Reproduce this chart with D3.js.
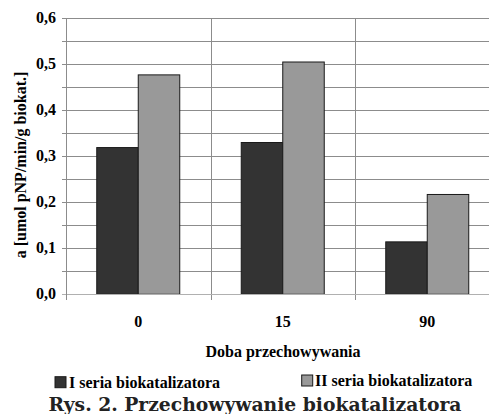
<!DOCTYPE html>
<html><head><meta charset="utf-8">
<script src="https://cdn.jsdelivr.net/npm/d3@7"></script>
<style>body{margin:0;background:#fff}svg{display:block}</style>
</head><body><svg width="489" height="414"></svg>
<script>
const categories = ["0", "15", "90"];
const seriesNames = ["I seria biokatalizatora", "II seria biokatalizatora"];
const seriesI = [0.319, 0.330, 0.114];
const seriesII = [0.477, 0.505, 0.217];
const yTicks = [0, 0.1, 0.2, 0.3, 0.4, 0.5, 0.6];
const yGrid = [0.05, 0.1, 0.15, 0.2, 0.25, 0.3, 0.35, 0.4, 0.45, 0.5, 0.55, 0.6];
const colors = ["#333333", "#999999"];

const svg = d3.select("svg");
const font = "'Liberation Serif', 'Times New Roman', serif";
const plotLeft = 66, plotTop = 18.3, plotBottom = 294.3, step = 144.5;

const x0 = d3.scaleBand().domain(categories).range([plotLeft, plotLeft + step * categories.length]).padding(0);
const x1 = d3.scaleBand().domain([0, 1]).range([0, x0.bandwidth()]).paddingInner(0).paddingOuter(0.741);
const y = d3.scaleLinear().domain([0, 0.6]).range([plotBottom, plotTop]);

const gridColor = "#8c8c8c";
// horizontal grid
svg.append("g").selectAll("line").data(yGrid).join("line")
  .attr("x1", plotLeft - 4).attr("x2", 489)
  .attr("y1", d => Math.round(y(d)) + 0.5).attr("y2", d => Math.round(y(d)) + 0.5)
  .attr("stroke", gridColor).attr("stroke-width", 1);
// vertical separators
svg.append("g").selectAll("line").data(categories.slice(1)).join("line")
  .attr("x1", d => Math.round(x0(d)) + 0.5).attr("x2", d => Math.round(x0(d)) + 0.5)
  .attr("y1", plotTop).attr("y2", 300)
  .attr("stroke", gridColor);

// bars
const data = categories.map((c, i) => ({c, v: [seriesI[i], seriesII[i]]}));
const g = svg.append("g").selectAll("g").data(data).join("g")
  .attr("transform", d => `translate(${x0(d.c)},0)`);
g.selectAll("rect").data(d => d.v.map((v, k) => ({v, k}))).join("rect")
  .attr("x", d => x1(d.k)).attr("width", x1.bandwidth())
  .attr("y", d => y(d.v)).attr("height", d => y(0) - y(d.v))
  .attr("fill", d => colors[d.k]).attr("stroke", "#1a1a1a").attr("stroke-width", 1);

// baseline and left axis
svg.append("line").attr("x1", plotLeft - 4).attr("x2", 489).attr("y1", Math.round(plotBottom) + 0.5).attr("y2", Math.round(plotBottom) + 0.5).attr("stroke", "#b0b0b0");
svg.append("line").attr("x1", plotLeft + 0.5).attr("x2", plotLeft + 0.5).attr("y1", plotTop).attr("y2", 300).attr("stroke", gridColor);

// y tick labels
svg.append("g").selectAll("text").data(yTicks).join("text")
  .attr("x", 56).attr("y", d => y(d) + 5)
  .attr("text-anchor", "end")
  .attr("font-family", font).attr("font-weight", "bold").attr("font-size", 16)
  .text(d => d3.format(".1f")(d).replace(".", ","));

// x labels
svg.append("g").selectAll("text").data(categories).join("text")
  .attr("x", d => x0(d) + x0.bandwidth() / 2).attr("y", 327)
  .attr("text-anchor", "middle")
  .attr("font-family", font).attr("font-weight", "bold").attr("font-size", 16)
  .text(d => d);

svg.append("text").attr("x", 283).attr("y", 357).attr("text-anchor", "middle")
  .attr("font-family", font).attr("font-weight", "bold").attr("font-size", 16)
  .text("Doba przechowywania");

svg.append("text").attr("transform", "translate(26,165) rotate(-90)").attr("text-anchor", "middle")
  .attr("font-family", font).attr("font-weight", "bold").attr("font-size", 16)
  .text("a [umol pNP/min/g biokat.]");

// legend
const legendPos = [{x: 55, y: 376.7, tx: 69, ty: 388}, {x: 301.7, y: 375, tx: 315, ty: 386}];
const lg = svg.append("g").selectAll("g").data(seriesNames).join("g");
lg.append("rect").attr("x", (d, i) => legendPos[i].x).attr("y", (d, i) => legendPos[i].y)
  .attr("width", 11).attr("height", 11).attr("fill", (d, i) => colors[i]).attr("stroke", "#1a1a1a");
lg.append("text").attr("x", (d, i) => legendPos[i].tx).attr("y", (d, i) => legendPos[i].ty)
  .attr("font-family", font).attr("font-weight", "bold").attr("font-size", 16)
  .text(d => d);

// caption
svg.append("text").attr("x", 48.5).attr("y", 411)
  .attr("font-family", "'DejaVu Serif', serif").attr("font-weight", "bold").attr("font-size", 18)
  .attr("fill", "#222")
  .attr("textLength", 413).attr("lengthAdjust", "spacingAndGlyphs")
  .text("Rys. 2. Przechowywanie biokatalizatora");
</script></body></html>
